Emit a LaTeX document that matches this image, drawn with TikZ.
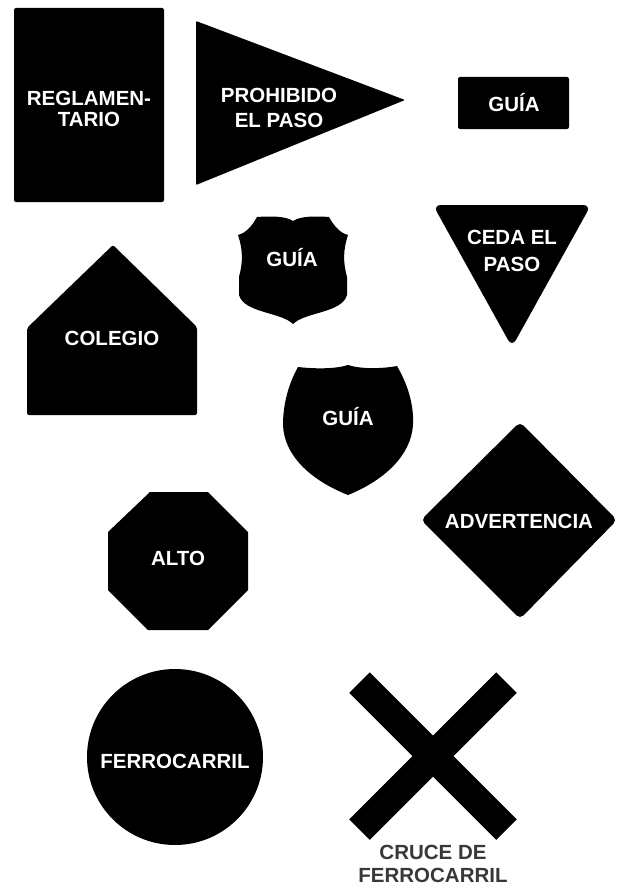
\documentclass[tikz,border=0pt]{standalone}
\usepackage{fontspec}
\setmainfont{Liberation Sans}
\begin{document}
\begin{tikzpicture}[x=1pt,y=-1pt]
\tikzset{
  sign/.style={fill=black},
  lbl/.style={text=white, inner sep=0pt, align=center, font=\bfseries\fontsize{20.5}{#1}\selectfont},
  lbl/.default=24,
  cap/.style={text=black!78, inner sep=0pt, align=center, font=\bfseries\fontsize{20.5}{#1}\selectfont},
  cap/.default=23
}
\useasboundingbox (0,0) rectangle (618,888);
% REGLAMENTARIO
\fill[sign, rounded corners=2pt] (14,8) rectangle (164,202);
\node[lbl=21, anchor=center] (reg) at (89,109) {REGLAMEN-\\TARIO};
% PROHIBIDO EL PASO
\fill[sign, rounded corners=1pt] (196,21) -- (405,100) -- (196,185) -- cycle;
\node[lbl=25, anchor=center] (proh) at (279,108) {PROHIBIDO\\EL PASO};
% GUIA rectangle
\fill[sign, rounded corners=2pt] (458,77) rectangle (569,129);
\node[lbl, anchor=base] (guia1) at (514,112) {GUÍA};
% Shield 1
\fill[sign] (257,217) .. controls (270,216) and (286,216) .. (293,221)
  .. controls (300,216) and (316,216) .. (329,217)
  .. controls (334,226) and (340,233) .. (348,235)
  .. controls (343,250) and (343,262) .. (347,277) -- (347,295)
  .. controls (342,313) and (305,312) .. (293,324)
  .. controls (281,312) and (244,313) .. (239,295) -- (239,277)
  .. controls (243,262) and (243,250) .. (238,235)
  .. controls (246,233) and (252,226) .. (257,217) -- cycle;
\node[lbl, anchor=base] (guia2) at (292,266) {GUÍA};
% CEDA EL PASO
\fill[sign, rounded corners=8pt] (433,205) -- (591,205) -- (512,347) -- cycle;
\node[lbl=27, anchor=center] (ceda) at (512,251) {CEDA EL\\PASO};
% COLEGIO
\fill[sign, rounded corners=2pt] (113,245) -- (197,327) -- (197,415) -- (27,415) -- (27,328) -- cycle;
\node[lbl, anchor=base] (coleg) at (112,345) {COLEGIO};
% Shield 2
\fill[sign] (298,367) .. controls (315,369) and (336,369) .. (348,365)
  .. controls (360,369) and (381,369) .. (397,366)
  .. controls (408,385) and (414,405) .. (413,425)
  .. controls (411,455) and (385,480) .. (348,495)
  .. controls (310,480) and (284,455) .. (283,425)
  .. controls (283,405) and (288,385) .. (298,367) -- cycle;
\node[lbl, anchor=base] (guia3) at (348,425) {GUÍA};
% ADVERTENCIA
\fill[sign, rounded corners=5pt] (520,422) -- (617,520) -- (520,619) -- (421,520) -- cycle;
\node[lbl, anchor=base] (adv) at (519,528) {ADVERTENCIA};
% ALTO
\fill[sign] (150,492) -- (208,492) -- (248,532) -- (248,590) -- (208,630) -- (148,630) -- (108,590) -- (108,532) -- cycle;
\node[lbl, anchor=base] (alto) at (178,565) {ALTO};
% FERROCARRIL circle
\fill[sign] (175,757) circle[radius=88];
\node[lbl, anchor=base] (ferro) at (175,768) {FERROCARRIL};
% Cross
\fill[sign] (369.75,672.25) -- (349.25,692.75) -- (496.25,839.75) -- (516.75,819.25) -- cycle;
\fill[sign] (496.25,672.25) -- (516.75,692.75) -- (369.75,839.75) -- (349.25,819.25) -- cycle;
\node[cap=23, anchor=center] (cruce) at (433,864) {CRUCE DE\\FERROCARRIL};
\end{tikzpicture}
\end{document}
